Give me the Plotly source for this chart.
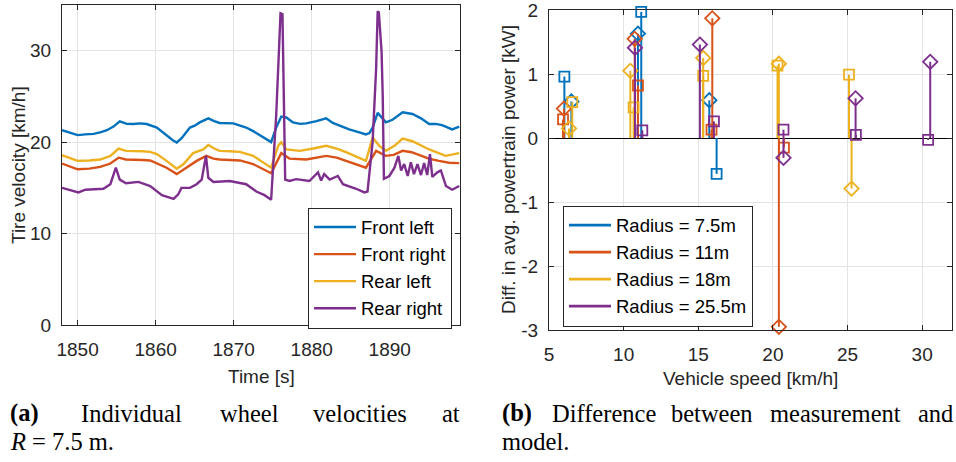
import plotly.graph_objects as go

# ---------------- (a) individual wheel velocities at R = 7.5 m ----------------
t_front_left = [1848.0, 1849.0, 1850.0, 1851.0, 1852.05, 1853.0, 1853.75, 1854.6, 1855.4, 1856.3,
                1857.15, 1858.0, 1858.85, 1860.15, 1861.4, 1862.2, 1862.7, 1863.3, 1864.4, 1865.0,
                1865.65, 1866.75, 1867.5, 1868.2, 1869.95, 1871.6, 1872.5, 1873.35, 1874.8, 1875.45,
                1876.1, 1876.75, 1877.6, 1878.5, 1879.3, 1880.6, 1881.85, 1882.7, 1883.8, 1884.8,
                1886.0, 1886.95, 1887.4, 1887.8, 1888.45, 1889.0, 1889.5, 1890.35, 1891.0, 1891.65,
                1892.9, 1894.0, 1895.05, 1895.9, 1896.7, 1897.4, 1898.0, 1898.9]
v_front_left = [21.3, 21.0, 20.77, 20.85, 20.9, 21.1, 21.3, 21.7, 22.27, 22.0,
                21.98, 22.05, 21.98, 21.6, 20.7, 20.2, 19.96, 20.4, 21.6, 21.8,
                22.16, 22.6, 22.3, 22.1, 22.05, 21.6, 21.2, 20.77, 20.0, 21.6,
                22.8, 22.7, 22.16, 22.0, 22.05, 22.3, 22.6, 22.1, 21.7, 21.4,
                21.1, 20.84, 21.0, 21.6, 23.2, 22.6, 22.16, 22.45, 22.9, 23.26,
                23.08, 22.6, 21.98, 22.0, 21.87, 21.6, 21.4, 21.7]

t_front_right = [1848.0, 1850.0, 1851.5, 1852.9, 1854.2, 1855.25, 1856.2, 1857.15, 1858.3, 1859.3,
                 1861.4, 1862.7, 1863.95, 1865.25, 1866.5, 1867.4, 1868.2, 1869.5, 1870.8, 1872.5,
                 1874.8, 1876.1, 1877.15, 1879.3, 1880.7, 1881.85, 1883.2, 1884.4, 1886.95, 1888.25,
                 1889.5, 1890.5, 1891.65, 1892.8, 1893.75, 1895.0, 1896.3, 1897.6, 1898.9]
v_front_right = [17.66, 17.03, 17.1, 17.3, 17.66, 18.3, 18.1, 18.1, 18.05, 18.0,
                 17.2, 16.5, 17.2, 17.95, 18.5, 18.2, 18.1, 18.05, 18.0, 17.6,
                 16.6, 18.8, 18.2, 18.1, 18.3, 18.5, 18.3, 17.95, 17.2, 19.05,
                 18.5, 18.6, 19.05, 18.9, 18.6, 18.2, 17.95, 17.75, 17.7]

t_rear_left = [1848.0, 1850.0, 1851.5, 1852.9, 1854.2, 1855.25, 1856.2, 1857.15, 1858.3, 1859.3,
               1860.15, 1861.4, 1862.7, 1863.55, 1864.8, 1866.1, 1866.75, 1867.5, 1868.2, 1869.5,
               1870.8, 1872.5, 1874.8, 1875.7, 1876.1, 1876.75, 1878.45, 1880.2, 1881.85, 1883.2,
               1884.4, 1886.95, 1887.8, 1888.65, 1889.5, 1890.6, 1891.65, 1892.9, 1895.05, 1897.15,
               1898.9]
v_rear_left = [18.57, 17.95, 18.0, 18.1, 18.5, 19.3, 19.05, 19.05, 19.0, 18.94,
               18.7, 17.95, 17.1, 17.58, 18.8, 19.2, 19.7, 19.3, 19.05, 19.0,
               18.94, 18.5, 17.2, 19.6, 20.0, 19.2, 19.05, 19.3, 19.6, 19.3,
               18.9, 17.95, 20.5, 19.6, 19.05, 19.6, 20.4, 20.1, 19.2, 18.5,
               18.8]

t_rear_right = [1848.0, 1850.1, 1851.0, 1853.3, 1854.2, 1854.9, 1855.4, 1856.2, 1857.8, 1859.3,
                1860.8, 1862.3, 1862.9, 1863.3, 1864.4, 1865.25, 1865.9, 1866.45, 1866.75, 1867.4,
                1869.5, 1871.6, 1872.9, 1873.95, 1874.8, 1875.45, 1875.85, 1876.0, 1876.25, 1876.45,
                1876.6, 1877.15, 1878.0, 1879.7, 1880.8, 1881.2, 1881.6, 1882.3, 1883.35, 1884.0,
                1885.7, 1886.75, 1887.15, 1887.8, 1888.25, 1888.45, 1888.6, 1888.95, 1889.1, 1889.25,
                1889.95, 1890.6, 1891.1, 1891.45, 1891.85, 1892.3, 1892.7, 1893.1, 1893.55, 1894.0,
                1894.4, 1894.8, 1895.15, 1895.45, 1896.1, 1896.55, 1897.2, 1898.0, 1898.9]
v_rear_right = [15.0, 14.5, 14.8, 14.9, 15.4, 17.2, 15.9, 15.5, 15.65, 15.2,
                14.2, 13.8, 14.3, 15.0, 15.0, 15.4, 15.9, 18.5, 16.1, 15.65,
                15.75, 15.4, 14.6, 14.2, 13.7, 23.0, 31.0, 34.1, 34.0, 20.0,
                15.9, 15.75, 15.95, 15.75, 16.7, 15.8, 16.5, 15.9, 16.3, 15.4,
                14.9, 14.5, 14.6, 20.0, 28.0, 34.3, 34.2, 29.9, 25.0, 16.0,
                16.3, 17.2, 18.5, 16.9, 17.6, 16.3, 17.8, 16.5, 17.6, 16.4,
                17.7, 16.4, 18.7, 16.2, 16.7, 16.9, 15.2, 14.8, 15.2]

wheel_names = ["Front left", "Front right", "Rear left", "Rear right"]
time_ticks = [1850, 1860, 1870, 1880, 1890]
velocity_ticks = [0, 10, 20, 30]

# ---------------- (b) measurement minus model, per turning radius ----------------
radius_names = ["Radius = 7.5m", "Radius = 11m", "Radius = 18m", "Radius = 25.5m"]

speed_75_sq = [6.03, 11.18, 16.23]
diff_75_sq = [0.96, 1.97, -0.56]
speed_75_di = [6.5, 10.96, 15.74]
diff_75_di = [0.57, 1.63, 0.59]

speed_11_sq = [5.94, 10.96, 15.89, 20.74]
diff_11_sq = [0.29, 0.82, 0.13, -0.15]
speed_11_di = [6.0, 10.74, 15.94, 20.4]
diff_11_di = [0.46, 1.55, 1.87, -2.95]

speed_18_sq = [6.56, 10.67, 15.33, 20.31, 25.1]
diff_18_sq = [0.56, 0.48, 0.97, 1.13, 0.99]
speed_18_di = [6.34, 10.45, 15.33, 20.4, 25.27]
diff_18_di = [0.15, 1.05, 1.25, 1.16, -0.79]

speed_255_sq = [11.25, 16.05, 20.71, 25.56, 30.4]
diff_255_sq = [0.12, 0.26, 0.13, 0.05, -0.03]
speed_255_di = [10.76, 15.11, 20.71, 25.54, 30.54]
diff_255_di = [1.41, 1.46, -0.31, 0.62, 1.19]

speed_ticks = [5, 10, 15, 20, 25, 30]
power_ticks = [-3, -2, -1, 0, 1, 2]
power_tick_text = ["-3", "-2", "-1", "0", "1", "2"]

COLORS = ["#0072BD", "#D95319", "#EDB120", "#7E2F8E"]
AX = "#262626"
GRID = "#e3e3e3"
SANS = "Liberation Sans, Arial, sans-serif"
SERIF = "Liberation Serif, Times New Roman, serif"
W, H = 956, 462


def px(x):
    return x / W


def py(y):
    return 1 - y / H


fig = go.Figure()

# wheel speed traces
for name, t, v, c in zip(wheel_names,
                         [t_front_left, t_front_right, t_rear_left, t_rear_right],
                         [v_front_left, v_front_right, v_rear_left, v_rear_right],
                         COLORS):
    fig.add_trace(go.Scatter(x=t, y=v, mode="lines", name=name,
                             line=dict(color=c, width=2.4),
                             xaxis="x", yaxis="y", legend="legend"))


def stems(xs, ys):
    sx, sy = [], []
    for x, y in zip(xs, ys):
        sx += [x, x, None]
        sy += [0, y, None]
    return sx, sy


groups = [
    (speed_75_sq, diff_75_sq, speed_75_di, diff_75_di),
    (speed_11_sq, diff_11_sq, speed_11_di, diff_11_di),
    (speed_18_sq, diff_18_sq, speed_18_di, diff_18_di),
    (speed_255_sq, diff_255_sq, speed_255_di, diff_255_di),
]

for (xs_s, ys_s, xs_d, ys_d), c, name in zip(groups, COLORS, radius_names):
    for xs, ys, sym, size in [(xs_s, ys_s, "square-open", 10), (xs_d, ys_d, "diamond-open", 11)]:
        sx, sy = stems(xs, ys)
        fig.add_trace(go.Scatter(x=sx, y=sy, mode="lines", line=dict(color=c, width=2),
                                 showlegend=False, hoverinfo="skip",
                                 xaxis="x2", yaxis="y2"))
        fig.add_trace(go.Scatter(x=xs, y=ys, mode="markers", cliponaxis=False,
                                 marker=dict(symbol=sym, size=size, color=c,
                                             line=dict(color=c, width=1.8)),
                                 showlegend=False, xaxis="x2", yaxis="y2"))
    # legend entry drawn as a plain line
    fig.add_trace(go.Scatter(x=[None], y=[None], mode="lines", name=name,
                             line=dict(color=c, width=2.8),
                             xaxis="x2", yaxis="y2", legend="legend2"))

axis_common = dict(showline=True, linecolor=AX, linewidth=1, mirror="ticks",
                   ticks="inside", ticklen=5, tickcolor=AX, tickwidth=1,
                   showgrid=True, gridcolor=GRID, gridwidth=1, zeroline=False,
                   ticklabeloverflow="allow", automargin=False,
                   tickfont=dict(family=SANS, size=19, color=AX))

fig.update_layout(
    width=W, height=H,
    margin=dict(l=0, r=0, t=0, b=0, autoexpand=False),
    paper_bgcolor="white", plot_bgcolor="white",
    xaxis=dict(domain=[px(62), px(460)], range=[1848, 1899], tickvals=time_ticks,
               anchor="y", ticklabelstandoff=7, **axis_common),
    yaxis=dict(domain=[py(325), py(5)], range=[0, 35], tickvals=velocity_ticks,
               anchor="x", ticklabelstandoff=6, **axis_common),
    xaxis2=dict(domain=[px(549), px(952)], range=[5, 32], tickvals=speed_ticks,
                anchor="y2", ticklabelstandoff=7, **axis_common),
    yaxis2=dict(domain=[py(330), py(10)], range=[-3, 2], tickvals=power_ticks,
                ticktext=power_tick_text, anchor="x2", ticklabelstandoff=6,
                **{**axis_common, "zeroline": True}, zerolinecolor="black", zerolinewidth=1),
    legend=dict(x=px(452), xanchor="right", y=py(207.5), yanchor="top",
                bgcolor="white", bordercolor=AX, borderwidth=1, itemwidth=42,
                font=dict(family=SANS, size=18.5, color="black"), tracegroupgap=0),
    legend2=dict(x=px(563), xanchor="left", y=py(205.5), yanchor="top",
                 bgcolor="white", bordercolor=AX, borderwidth=1, itemwidth=42,
                 font=dict(family=SANS, size=18.5, color="black"), tracegroupgap=0),
)

annotations = [
    dict(text="Time [s]", x=px(261), y=py(376), font=dict(family=SANS, size=19, color=AX)),
    dict(text="Vehicle speed [km/h]", x=px(750), y=py(378), font=dict(family=SANS, size=19, color=AX)),
    dict(text="Tire velocity [km/h]", x=px(18), y=py(165), textangle=-90,
         font=dict(family=SANS, size=19, color=AX)),
    dict(text="Diff. in avg. powertrain power [kW]", x=px(508), y=py(170), textangle=-90,
         font=dict(family=SANS, size=19, color=AX)),
]

# sub-figure captions, first lines justified word by word
cap_font = dict(family=SERIF, size=24.5, color="black")
caption_words = [
    ("<b>(a)</b>", 8, "left", 413), ("Individual", 79, "left", 413), ("wheel", 218, "left", 413),
    ("velocities", 311, "left", 413), ("at", 462, "right", 413),
    ("<i>R</i> = 7.5 m.", 8, "left", 441),
    ("<b>(b)</b>", 500, "left", 413), ("Difference", 550, "left", 413),
    ("between", 669, "left", 413), ("measurement", 768, "left", 413), ("and", 955, "right", 413),
    ("model.", 500, "left", 441),
]
for word, x, anchor, y in caption_words:
    annotations.append(dict(text=word, x=px(x), y=py(y), xanchor=anchor, font=cap_font))

for a in annotations:
    a.setdefault("xanchor", "center")
    a.setdefault("yanchor", "middle")
    a.update(xref="paper", yref="paper", showarrow=False)
fig.update_layout(annotations=annotations)

fig.write_html("out.html")
